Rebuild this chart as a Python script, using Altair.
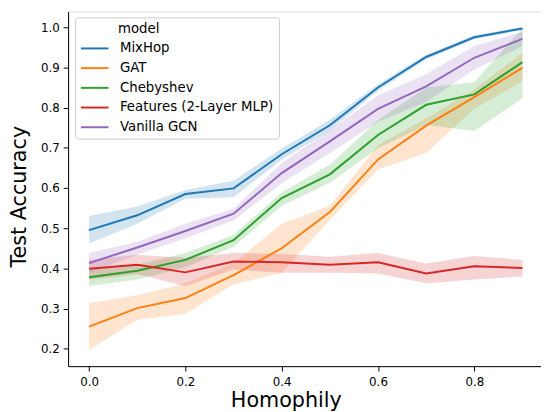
import altair as alt
import pandas as pd

# ---- data ----
homophily = [0.0, 0.1, 0.2, 0.3, 0.4, 0.5, 0.6, 0.7, 0.8, 0.9]
models = ["MixHop", "GAT", "Chebyshev", "Features (2-Layer MLP)", "Vanilla GCN"]
colors = ["#1f77b4", "#ff7f0e", "#2ca02c", "#d62728", "#9467bd"]

mixhop_mean = [0.495, 0.532, 0.585, 0.599, 0.684, 0.756, 0.850, 0.926, 0.975, 0.997]
mixhop_lo = [0.462, 0.511, 0.573, 0.577, 0.670, 0.743, 0.842, 0.920, 0.970, 0.993]
mixhop_hi = [0.530, 0.554, 0.595, 0.618, 0.698, 0.770, 0.858, 0.932, 0.980, 1.001]

gat_mean = [0.255, 0.301, 0.326, 0.383, 0.450, 0.540, 0.671, 0.755, 0.826, 0.899]
gat_lo = [0.197, 0.272, 0.287, 0.360, 0.389, 0.520, 0.646, 0.687, 0.797, 0.867]
gat_hi = [0.314, 0.333, 0.363, 0.413, 0.511, 0.556, 0.707, 0.773, 0.845, 0.936]

cheb_mean = [0.378, 0.394, 0.421, 0.470, 0.575, 0.634, 0.732, 0.807, 0.833, 0.913]
cheb_lo = [0.356, 0.372, 0.403, 0.454, 0.556, 0.613, 0.699, 0.757, 0.742, 0.823]
cheb_hi = [0.397, 0.409, 0.438, 0.483, 0.589, 0.658, 0.769, 0.850, 0.863, 0.997]

mlp_mean = [0.399, 0.409, 0.390, 0.417, 0.415, 0.409, 0.415, 0.387, 0.405, 0.401]
mlp_lo = [0.372, 0.385, 0.356, 0.397, 0.389, 0.389, 0.387, 0.363, 0.372, 0.380]
mlp_hi = [0.421, 0.434, 0.426, 0.438, 0.436, 0.429, 0.438, 0.412, 0.431, 0.421]

gcn_mean = [0.413, 0.452, 0.493, 0.536, 0.637, 0.716, 0.797, 0.853, 0.924, 0.971]
gcn_lo = [0.389, 0.434, 0.475, 0.519, 0.612, 0.687, 0.765, 0.814, 0.895, 0.953]
gcn_hi = [0.438, 0.466, 0.511, 0.548, 0.662, 0.744, 0.830, 0.883, 0.953, 0.989]

series = {
    "MixHop": (mixhop_mean, mixhop_lo, mixhop_hi),
    "GAT": (gat_mean, gat_lo, gat_hi),
    "Chebyshev": (cheb_mean, cheb_lo, cheb_hi),
    "Features (2-Layer MLP)": (mlp_mean, mlp_lo, mlp_hi),
    "Vanilla GCN": (gcn_mean, gcn_lo, gcn_hi),
}

rows = []
for order, m in enumerate(models):
    mean, lo, hi = series[m]
    for i, h in enumerate(homophily):
        rows.append({"model": m, "order": order, "homophily": h,
                     "acc": mean[i], "lo": lo[i], "hi": hi[i]})
df = pd.DataFrame(rows)

FONT = "DejaVu Sans"

xscale = alt.Scale(domain=[-0.0436, 0.9385], nice=False, zero=False)
yscale = alt.Scale(domain=[0.1566, 1.0392], nice=False, zero=False)
cscale = alt.Scale(domain=models, range=colors)

xaxis = alt.Axis(values=[0.0, 0.2, 0.4, 0.6, 0.8], format=".1f", title="Homophily",
                 titleX=221, titleY=41, titleAlign="center", titleBaseline="alphabetic",
                 titleFontSize=21, titleFont=FONT, titleFontWeight="normal",
                 labelFont=FONT, labelFontSize=12, labelPadding=6, labelFlush=False,
                 tickSize=5, tickColor="black", domainColor="black", labelColor="black",
                 titleColor="black", grid=False)
yaxis = alt.Axis(values=[0.2, 0.3, 0.4, 0.5, 0.6, 0.7, 0.8, 0.9, 1.0], format=".1f",
                 title="Test Accuracy", titleX=-43, titleY=187.5, titleAngle=270,
                 titleAlign="center", titleBaseline="alphabetic",
                 titleFontSize=21, titleFont=FONT, titleFontWeight="normal",
                 labelFont=FONT, labelFontSize=12, labelPadding=4, labelFlush=False,
                 tickSize=5, tickColor="black", domainColor="black", labelColor="black",
                 titleColor="black", grid=False)

base = alt.Chart(df)

bands = base.mark_area(opacity=0.2).encode(
    x=alt.X("homophily:Q", scale=xscale, axis=xaxis),
    y=alt.Y("lo:Q", scale=yscale, axis=yaxis),
    y2="hi:Q",
    color=alt.Color("model:N", scale=cscale, legend=None),
    order=alt.Order("order:Q"),
)

lines = base.mark_line(strokeWidth=2).encode(
    x=alt.X("homophily:Q", scale=xscale, axis=xaxis),
    y=alt.Y("acc:Q", scale=yscale, axis=yaxis),
    color=alt.Color(
        "model:N", scale=cscale,
        legend=alt.Legend(
            orient="none", legendX=7, legendY=6,
            title="\u200b\u2007\u2007\u2007\u2007\u00a0model",
            titleFont=FONT, titleFontSize=13.5, titleFontWeight="normal",
            titleColor="black", titlePadding=5,
            labelFont=FONT, labelFontSize=13.5, labelColor="black",
            labelOffset=24.6, rowPadding=5, padding=5,
            symbolType="M-1,0L3,0", symbolSize=196, symbolStrokeWidth=2,
            strokeColor="#cccccc", fillColor="rgba(255,255,255,0.8)",
            cornerRadius=3,
        ),
    ),
    detail="model:N",
)

chart = alt.layer(bands, lines).resolve_legend(color="independent").properties(
    width=480, height=360,
    autosize=alt.AutoSizeParams(type="none"),
    padding={"left": 61, "top": 0.5, "right": 0, "bottom": 43.5},
).configure_view(stroke="black", strokeWidth=1).configure(background="white")

chart.save("out.html", embed_options={"renderer": "svg", "actions": False})
